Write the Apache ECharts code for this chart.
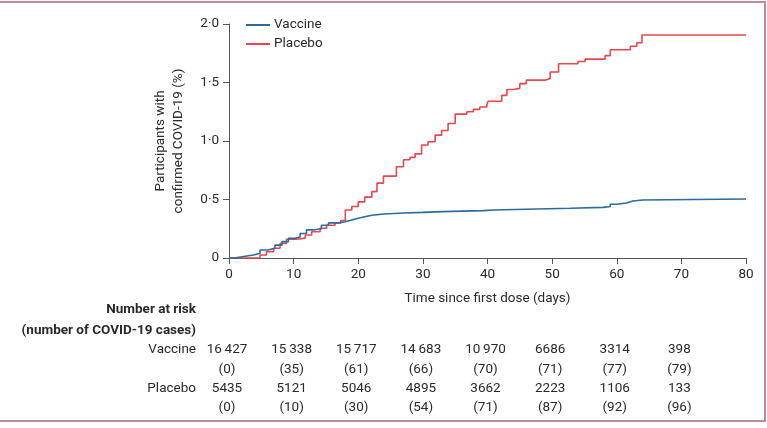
<!doctype html>
<html lang="en">
<head>
    <meta charset="UTF-8">
    <title>Confirmed COVID-19 by time since first dose</title>
    <style>
        html, body { margin: 0; padding: 0; background: #fff; }
        #main { width: 767px; height: 428px; }
    </style>
</head>
<body>
<div id="main"></div>
<script src="https://cdn.jsdelivr.net/npm/echarts@6/dist/echarts.min.js"></script>
<script>
    // Kaplan-Meier steps: [day, cumulative %]
    var vaccineSteps = [
        [0, 0], [0.9, 0.011], [2, 0.026], [3.8, 0.04], [4.8, 0.068], [6, 0.083],
        [7.1, 0.11], [8.2, 0.14], [9.2, 0.168], [10.2, 0.18], [11, 0.21], [12, 0.24],
        [13, 0.25], [14.3, 0.28], [15.4, 0.30], [16.9, 0.31], [18, 0.325], [19, 0.34],
        [20, 0.353], [21, 0.365], [22.1, 0.376], [24, 0.385], [27, 0.39], [30, 0.396],
        [33, 0.405], [39.4, 0.41], [40.9, 0.425], [52.8, 0.433], [57.9, 0.44],
        [59, 0.46], [60, 0.47], [61.5, 0.487], [62.5, 0.496], [64, 0.504], [80, 0.504]
    ];
    var placeboSteps = [
        [0, 0], [4.8, 0.026], [5.8, 0.054], [6.9, 0.083], [7.9, 0.125], [8.9, 0.16],
        [10.5, 0.17], [11.8, 0.197], [12.8, 0.225], [14.1, 0.254], [15.1, 0.28],
        [16.4, 0.30], [17.3, 0.32], [18, 0.41], [19, 0.44], [20, 0.48], [21, 0.52],
        [22.1, 0.567], [22.9, 0.64], [23.9, 0.70], [25.9, 0.78], [27, 0.84], [28, 0.86],
        [28.8, 0.89], [29.8, 0.966], [30.8, 0.994], [31.9, 1.05], [32.9, 1.09],
        [33.9, 1.15], [35, 1.23], [36.8, 1.25], [37.8, 1.27], [38.8, 1.29], [39.9, 1.31],
        [40.1, 1.34], [42.2, 1.39], [43, 1.44], [44, 1.45], [45, 1.49], [46, 1.52],
        [48.9, 1.535], [49.7, 1.59], [51, 1.66], [54, 1.68], [55.1, 1.70], [58.2, 1.73],
        [59, 1.78], [62.1, 1.81], [63.1, 1.84], [63.9, 1.906], [80, 1.906]
    ];

    // number at risk table
    var riskDays = [0, 10, 20, 30, 40, 50, 60, 70];
    var vaccineAtRisk = ['16 427', '15 338', '15 717', '14 683', '10 970', '6686', '3314', '398'];
    var vaccineCases = ['(0)', '(35)', '(61)', '(66)', '(70)', '(71)', '(77)', '(79)'];
    var placeboAtRisk = ['5435', '5121', '5046', '4895', '3662', '2223', '1106', '133'];
    var placeboCases = ['(0)', '(10)', '(30)', '(54)', '(71)', '(87)', '(92)', '(96)'];

    var FONT = "Roboto, Lato, 'Liberation Sans', sans-serif";
    var FS = 13.5;
    var INK = '#2a2a2a';
    var FRAME = '#bf8aa0';

    var myChart = echarts.init(document.getElementById('main'), null, {renderer: 'canvas'});

    function fmtY(v) {
        return v === 0 ? '0' : v.toFixed(1).replace('.', '\u00b7');
    }

    var option = {
        backgroundColor: '#fff',
        animation: false,
        textStyle: {fontFamily: FONT, color: INK},
        grid: {left: 229, right: 21, top: 24, bottom: 170, containLabel: false, outerBoundsMode: 'none'},
        legend: {
            left: 246, top: 18, padding: 0, orient: 'vertical', itemGap: 5,
            itemWidth: 24, itemHeight: 2, icon: 'rect',
            textStyle: {fontFamily: FONT, fontSize: FS, color: INK, padding: [0, 0, 0, -1]},
            data: ['Vaccine', 'Placebo']
        },
        xAxis: {
            type: 'value', min: 0, max: 80, interval: 10,
            name: 'Time since first dose (days)', nameLocation: 'middle', nameGap: 34,
            nameTextStyle: {fontFamily: FONT, fontSize: FS, color: INK},
            axisLine: {lineStyle: {color: '#555', width: 1}},
            axisTick: {length: 6, lineStyle: {color: '#555'}},
            axisLabel: {fontFamily: FONT, fontSize: FS, color: INK, margin: 10},
            splitLine: {show: false}
        },
        yAxis: {
            type: 'value', min: 0, max: 2, interval: 0.5,
            name: 'Participants with\nconfirmed COVID-19 (%)', nameLocation: 'middle', nameGap: 41,
            nameTextStyle: {fontFamily: FONT, fontSize: FS, color: INK, lineHeight: 18},
            axisLine: {show: true, lineStyle: {color: '#555', width: 1}},
            axisTick: {show: true, length: 6, lineStyle: {color: '#555'}},
            axisLabel: {fontFamily: FONT, fontSize: FS, color: INK, margin: 10, formatter: fmtY},
            splitLine: {show: false}
        },
        series: [{
            name: 'Vaccine', type: 'line', step: 'end', showSymbol: false,
            data: vaccineSteps, color: '#2b6b9f',
            lineStyle: {width: 1.6, color: '#2b6b9f'}, z: 3
        }, {
            name: 'Placebo', type: 'line', step: 'end', showSymbol: false,
            data: placeboSteps, color: '#e8484c',
            lineStyle: {width: 1.6, color: '#e8484c'}, z: 2
        }]
    };
    myChart.setOption(option);

    // at-risk table, columns placed through the x axis scale
    function colX(day) {
        return myChart.convertToPixel({xAxisIndex: 0}, day);
    }
    var graphics = [];
    function txt(x, y, s, align, bold) {
        graphics.push({
            type: 'text', x: x, y: y, silent: true,
            style: {
                text: s, fontFamily: FONT, fontSize: FS, fill: INK,
                fontWeight: bold ? 'bold' : 'normal',
                align: align, verticalAlign: 'middle'
            }
        });
    }
    var rowY = [350, 370, 389, 408];
    txt(196, 310, 'Number at risk', 'right', true);
    txt(196, 331, '(number of COVID-19 cases)', 'right', true);
    txt(196, rowY[0], 'Vaccine', 'right', false);
    txt(196, rowY[2], 'Placebo', 'right', false);
    riskDays.forEach(function (d, i) {
        var x = colX(d) - 2;
        txt(x, rowY[0], vaccineAtRisk[i].replace(' ', '\u2009'), 'center');
        txt(x, rowY[1], vaccineCases[i], 'center');
        txt(x, rowY[2], placeboAtRisk[i], 'center');
        txt(x, rowY[3], placeboCases[i], 'center');
    });
    // page frame (top, right, bottom rules)
    graphics.push({type: 'line', silent: true, shape: {x1: 0, y1: 2, x2: 766, y2: 2}, style: {stroke: FRAME, lineWidth: 2}});
    graphics.push({type: 'line', silent: true, shape: {x1: 765, y1: 2, x2: 765, y2: 421}, style: {stroke: FRAME, lineWidth: 2}});
    graphics.push({type: 'line', silent: true, shape: {x1: 0, y1: 421, x2: 766, y2: 421}, style: {stroke: FRAME, lineWidth: 2}});
    myChart.setOption({graphic: graphics});
</script>
</body>
</html>
